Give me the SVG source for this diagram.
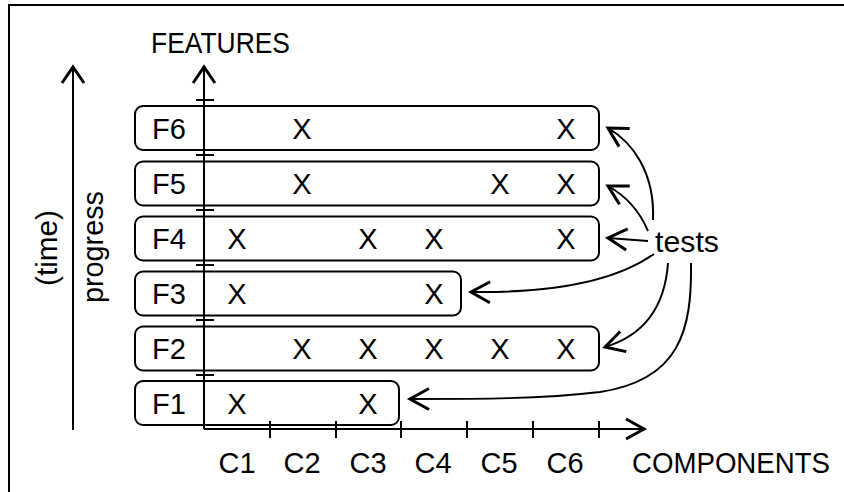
<svg xmlns="http://www.w3.org/2000/svg" width="844" height="492" viewBox="0 0 844 492">
<style>
text{font-family:"Liberation Sans",Arial,sans-serif;font-size:29px;fill:#000}
.m{text-anchor:middle}
.box{fill:#fff;stroke:#000;stroke-width:2}
.ax{fill:none;stroke:#000;stroke-width:2}
.head{fill:none;stroke:#000;stroke-width:3;stroke-linecap:butt;stroke-linejoin:miter}
.conn{fill:none;stroke:#000;stroke-width:2}
</style>
<defs>
<marker id="ah" markerUnits="userSpaceOnUse" viewBox="-24 -14 28 28" refX="0" refY="0" markerWidth="28" markerHeight="28" orient="auto">
<path d="M-19,-10.5 L0,0 L-19,10.5" fill="none" stroke="#000" stroke-width="3"/>
</marker>
</defs>
<rect x="0" y="0" width="844" height="492" fill="#fff"/>
<rect x="9" y="5" width="845" height="500" fill="none" stroke="#000" stroke-width="2"/>

<g id="labels">
<text x="151" y="53" textLength="139" lengthAdjust="spacingAndGlyphs">FEATURES</text>
<text x="632" y="473" textLength="198" lengthAdjust="spacingAndGlyphs">COMPONENTS</text>
<text transform="translate(57,248) rotate(-90)" class="m" textLength="76" lengthAdjust="spacingAndGlyphs">(time)</text>
<text transform="translate(103,247) rotate(-90)" class="m" textLength="112" lengthAdjust="spacingAndGlyphs">progress</text>
<text x="237" y="473" class="m">C1</text>
<text x="302" y="473" class="m">C2</text>
<text x="368" y="473" class="m">C3</text>
<text x="433" y="473" class="m">C4</text>
<text x="499" y="473" class="m">C5</text>
<text x="565" y="473" class="m">C6</text>
</g>

<g id="F6">
<rect class="box" x="135" y="106" width="464" height="44" rx="8"/>
<text x="169" y="138.5" class="m">F6</text>
<text x="302" y="138.5" class="m">X</text>
<text x="566" y="138.5" class="m">X</text>
</g>
<g id="F5">
<rect class="box" x="135" y="161.5" width="464" height="44" rx="8"/>
<text x="169" y="194" class="m">F5</text>
<text x="302" y="194" class="m">X</text>
<text x="500" y="194" class="m">X</text>
<text x="566" y="194" class="m">X</text>
</g>
<g id="F4">
<rect class="box" x="135" y="216.5" width="464" height="44" rx="8"/>
<text x="169" y="249" class="m">F4</text>
<text x="237" y="249" class="m">X</text>
<text x="368" y="249" class="m">X</text>
<text x="434" y="249" class="m">X</text>
<text x="566" y="249" class="m">X</text>
</g>
<g id="F3">
<rect class="box" x="135" y="271.5" width="326" height="44" rx="8"/>
<text x="169" y="304" class="m">F3</text>
<text x="237" y="304" class="m">X</text>
<text x="434" y="304" class="m">X</text>
</g>
<g id="F2">
<rect class="box" x="135" y="326.5" width="464" height="44" rx="8"/>
<text x="169" y="359" class="m">F2</text>
<text x="302" y="359" class="m">X</text>
<text x="368" y="359" class="m">X</text>
<text x="434" y="359" class="m">X</text>
<text x="500" y="359" class="m">X</text>
<text x="566" y="359" class="m">X</text>
</g>
<g id="F1">
<rect class="box" x="135" y="381" width="264" height="44" rx="8"/>
<text x="169" y="413.5" class="m">F1</text>
<text x="237" y="413.5" class="m">X</text>
<text x="368" y="413.5" class="m">X</text>
</g>

<g id="axes">
<path class="ax" d="M73,430 V67"/>
<path class="head" d="M62,83 L73,67 L84,83"/>
<path class="ax" d="M204,429 V67 M204,429 H644"/>
<path class="head" d="M193,83 L204,67 L215,83"/>
<path class="head" d="M626,419 L644,429 L626,439"/>
<path class="ax" d="M196,100 H214 M196,155 H214 M196,210 H214 M196,265 H214 M196,320 H214 M196,375 H214"/>
<path class="ax" d="M270,421 V438 M336,421 V438 M401,421 V438 M467,421 V438 M533,421 V438 M599,421 V438"/>
</g>

<g id="tests">
<text x="655" y="252" font-size="30" textLength="64" lengthAdjust="spacingAndGlyphs">tests</text>
</g>

<g id="connectors">
<path class="conn" marker-end="url(#ah)" d="M653,220 C655,172 632,142 608,128"/>
<path class="conn" marker-end="url(#ah)" d="M648,231 C640,212 626,196 608,186"/>
<path class="conn" marker-end="url(#ah)" d="M648,241 L608,238"/>
<path class="conn" marker-end="url(#ah)" d="M654,254 C610,285 540,293 471,292"/>
<path class="conn" marker-end="url(#ah)" d="M668,263 C665,305 645,335 605,347"/>
<path class="conn" marker-end="url(#ah)" d="M691,263 C692,330 680,380 600,392 C540,399 480,399 410,399"/>
</g>
</svg>
